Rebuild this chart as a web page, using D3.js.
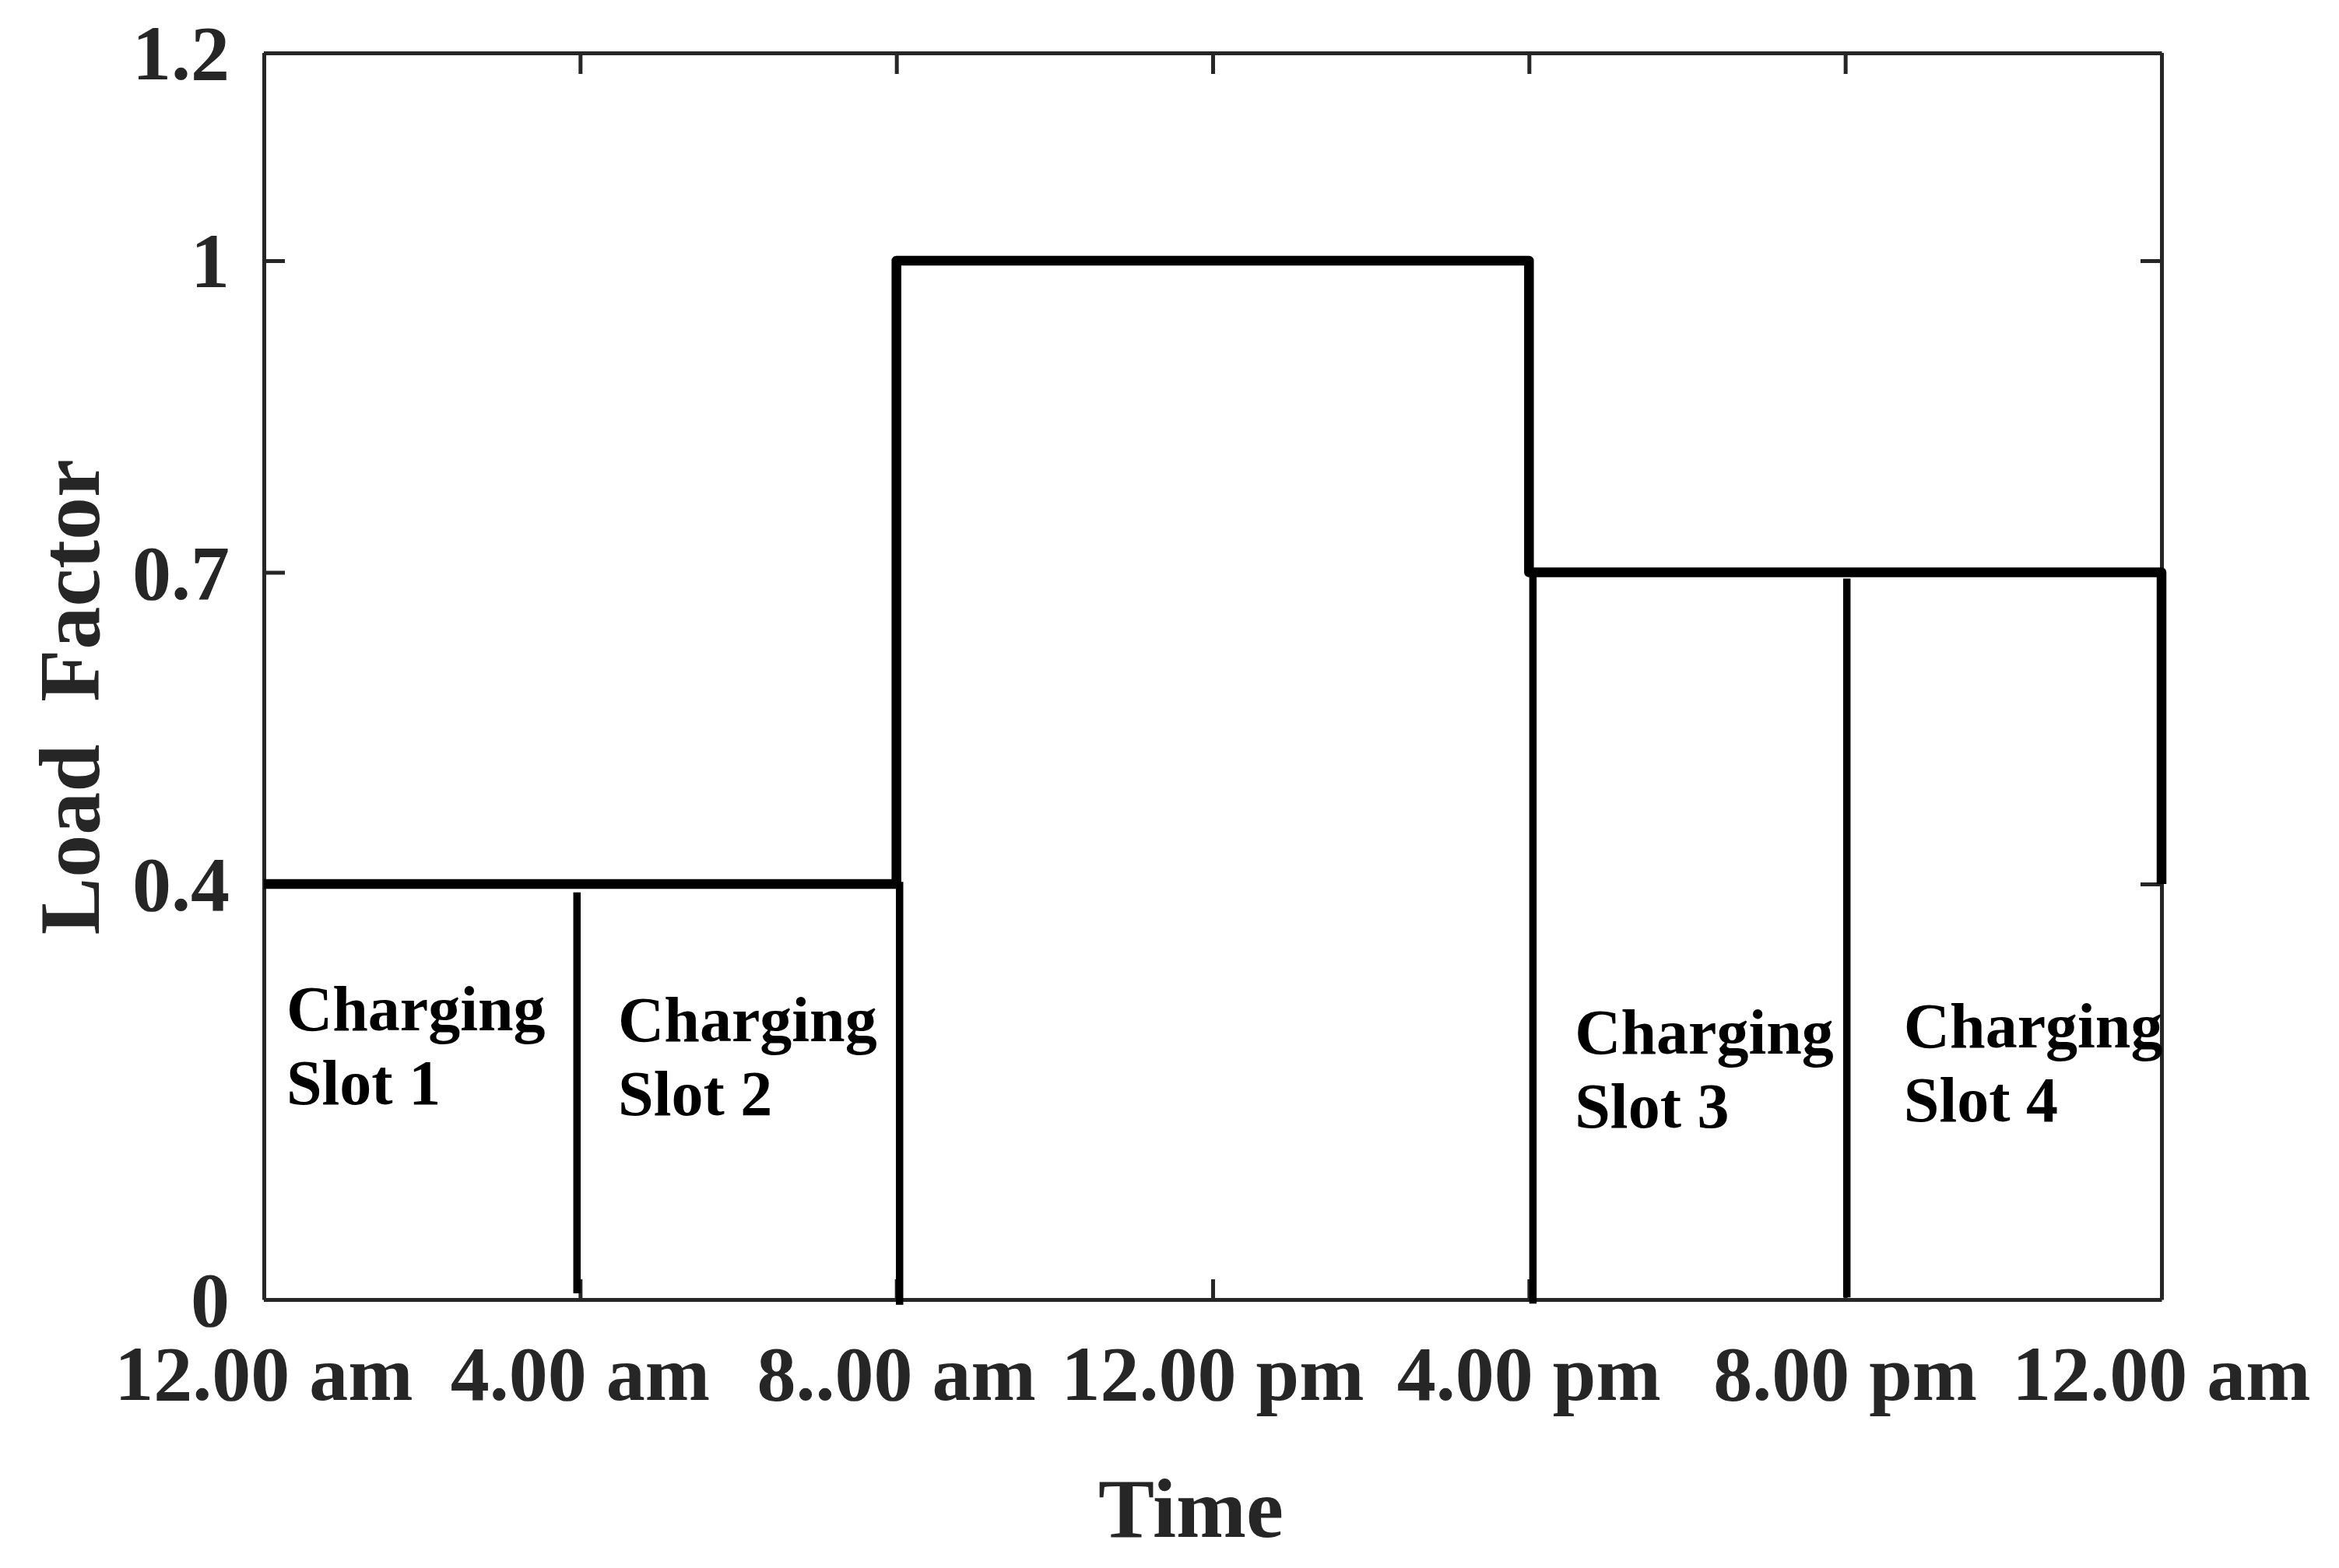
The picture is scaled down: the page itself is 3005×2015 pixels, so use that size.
<!DOCTYPE html>
<html>
<head>
<meta charset="utf-8">
<script src="https://cdn.jsdelivr.net/npm/d3@7"></script>
<style>
  body { margin: 0; background: #fff; }
  text { font-family: "Liberation Serif", "Times New Roman", serif; font-weight: bold; }
</style>
</head>
<body>
<div id="chart"></div>
<script>
// data
const stepHours = [0, 8, 8, 16, 16, 24, 24];
const stepLoads = [0.4, 0.4, 1, 1, 0.7, 0.7, 0.4];

// slot dividers (hour, top load, bottom load)
const dividerHours = [3.96, 8.04, 16.05, 20.02];
const dividerTops = [0.392, 0.402, 0.698, 0.694];
const dividerBottoms = [0.006, -0.005, -0.004, 0.002];

const slotNames = ["Slot 1", "Slot 2", "Slot 3", "Slot 4"];
const slotHours = [0.285, 4.48, 16.58, 20.74];
const slotLoads = [0.259, 0.249, 0.237, 0.243];

const xTicks = [0, 4, 8, 12, 16, 20, 24];
const xTickLabels = ["12.00 am", "4.00 am", "8..00 am", "12.00 pm", "4.00 pm", "8.00 pm", "12.00 am"];
const yTicks = [0, 0.4, 0.7, 1, 1.2];
const yTickLabels = ["0", "0.4", "0.7", "1", "1.2"];

const width = 3005;
const height = 2015;
const margin = { top: 68, right: 228, bottom: 345, left: 339 };
const axisColor = "#262626";

const svg = d3.select("#chart")
    .append("svg")
    .attr("width", width)
    .attr("height", height);

svg.append("rect").attr("width", width).attr("height", height).attr("fill", "#fff");

const x = d3.scaleLinear().domain([0, 24]).range([margin.left, width - margin.right]);
const y = d3.scaleLinear().domain([0, 1.2]).range([height - margin.bottom, margin.top]);

// axes with inward ticks on all four sides
function styleAxis(g) {
    g.selectAll("path, line").attr("stroke", axisColor).attr("stroke-width", 5);
    g.selectAll("text").remove();
}

svg.append("g")
    .attr("transform", `translate(0,${y(0)})`)
    .call(d3.axisBottom(x).tickValues(xTicks).tickSize(-26).tickSizeOuter(0))
    .call(styleAxis);
svg.append("g")
    .attr("transform", `translate(0,${y(1.2)})`)
    .call(d3.axisTop(x).tickValues(xTicks).tickSize(-27).tickSizeOuter(0))
    .call(styleAxis);
svg.append("g")
    .attr("transform", `translate(${x(0)},0)`)
    .call(d3.axisLeft(y).tickValues(yTicks).tickSize(-27).tickSizeOuter(0))
    .call(styleAxis);
svg.append("g")
    .attr("transform", `translate(${x(24)},0)`)
    .call(d3.axisRight(y).tickValues(yTicks).tickSize(-27).tickSizeOuter(0))
    .call(styleAxis);

// tick labels
svg.append("g").selectAll("text")
    .data(xTicks)
    .join("text")
    .attr("x", d => x(d))
    .attr("y", y(0) + 129)
    .attr("text-anchor", "middle")
    .attr("font-size", 100)
    .attr("fill", axisColor)
    .text((d, i) => xTickLabels[i]);

svg.append("g").selectAll("text")
    .data(yTicks)
    .join("text")
    .attr("x", x(0) - 44)
    .attr("y", d => y(d) + 34)
    .attr("text-anchor", "end")
    .attr("font-size", 100)
    .attr("fill", axisColor)
    .text((d, i) => yTickLabels[i]);

// axis titles
svg.append("text")
    .attr("x", x(12) - 28)
    .attr("y", y(0) + 305)
    .attr("text-anchor", "middle")
    .attr("font-size", 108)
    .attr("fill", axisColor)
    .text("Time");

svg.append("text")
    .attr("transform", `translate(127,${y(0.58)}) rotate(-90)`)
    .attr("text-anchor", "middle")
    .attr("font-size", 110)
    .attr("fill", axisColor)
    .style("white-space", "pre")
    .text("Load  Factor");

// slot dividers
svg.append("g").selectAll("line")
    .data(dividerHours)
    .join("line")
    .attr("x1", d => x(d))
    .attr("x2", d => x(d))
    .attr("y1", (d, i) => y(dividerTops[i]))
    .attr("y2", (d, i) => y(dividerBottoms[i]))
    .attr("stroke", "#000")
    .attr("stroke-width", 9.5);

// load factor step line
const line = d3.line()
    .x(d => x(d[0]))
    .y(d => y(d[1]));

svg.append("path")
    .datum(stepHours.map((h, i) => [h, stepLoads[i]]))
    .attr("d", line)
    .attr("fill", "none")
    .attr("stroke", "#000")
    .attr("stroke-width", 12.5)
    .attr("stroke-linejoin", "round");

// slot labels
const labels = svg.append("g").selectAll("text")
    .data(slotNames)
    .join("text")
    .attr("x", (d, i) => x(slotHours[i]))
    .attr("y", (d, i) => y(slotLoads[i]))
    .attr("font-size", 82)
    .attr("fill", "#000");

labels.append("tspan").text("Charging");
labels.append("tspan")
    .attr("x", (d, i) => x(slotHours[i]))
    .attr("dy", 95)
    .text(d => d);
</script>
</body>
</html>
